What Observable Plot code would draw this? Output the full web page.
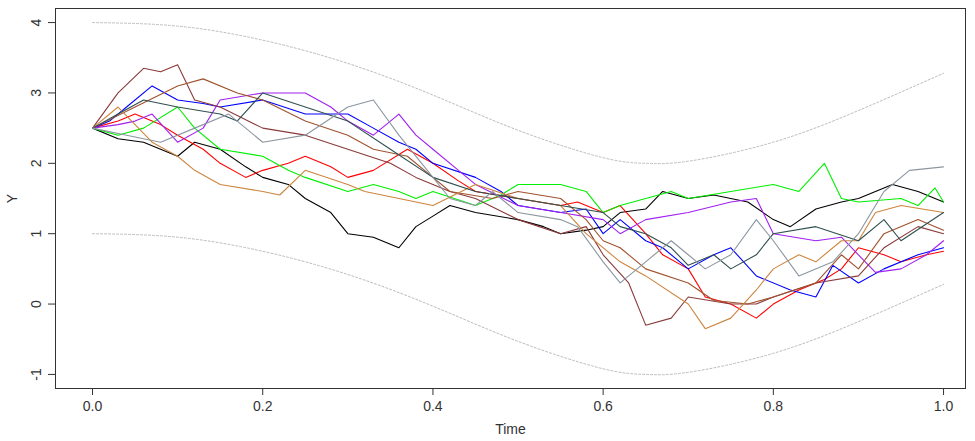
<!DOCTYPE html>
<html>
<head>
<meta charset="UTF-8" />
<style>
  body { margin: 0; background: #fff; font-family: "Liberation Sans", Arial, sans-serif; }
</style>
</head>
<body>
<div id="chart"></div>
<script src="https://cdn.jsdelivr.net/npm/d3@7"></script>
<script src="https://cdn.jsdelivr.net/npm/@observablehq/plot@0.6"></script>
<script>
// each series: [time, value] pairs
const black = [[0,2.5],[0.03,2.35],[0.06,2.3],[0.1,2.1],[0.12,2.3],[0.15,2.2],[0.18,1.95],[0.2,1.8],[0.23,1.7],[0.25,1.5],[0.28,1.3],[0.3,1.0],[0.33,0.95],[0.35,0.85],[0.36,0.8],[0.38,1.1],[0.4,1.25],[0.42,1.4],[0.45,1.3],[0.5,1.2],[0.53,1.1],[0.55,1.0],[0.58,1.05],[0.6,1.1],[0.62,1.3],[0.65,1.35],[0.67,1.6],[0.7,1.5],[0.73,1.55],[0.75,1.5],[0.77,1.45],[0.8,1.2],[0.82,1.1],[0.85,1.35],[0.88,1.45],[0.9,1.5],[0.94,1.7],[0.97,1.6],[1.0,1.45]];
const red = [[0,2.5],[0.03,2.6],[0.05,2.7],[0.08,2.55],[0.1,2.4],[0.13,2.2],[0.15,2.0],[0.18,1.8],[0.2,1.9],[0.23,2.0],[0.25,2.1],[0.28,1.95],[0.3,1.8],[0.33,1.9],[0.37,2.2],[0.4,2.0],[0.43,1.75],[0.45,1.6],[0.5,1.5],[0.55,1.4],[0.57,1.45],[0.6,1.3],[0.62,1.4],[0.65,1.0],[0.67,0.7],[0.7,0.5],[0.72,0.1],[0.75,0.0],[0.78,-0.2],[0.8,0.0],[0.83,0.2],[0.86,0.35],[0.88,0.5],[0.9,0.8],[0.93,0.7],[0.95,0.6],[0.98,0.7],[1.0,0.75]];
const blue = [[0,2.5],[0.02,2.6],[0.04,2.8],[0.07,3.1],[0.1,2.9],[0.13,2.85],[0.15,2.8],[0.2,2.9],[0.25,2.7],[0.3,2.7],[0.33,2.5],[0.36,2.3],[0.38,2.2],[0.4,2.0],[0.45,1.8],[0.48,1.6],[0.5,1.4],[0.55,1.3],[0.58,1.35],[0.6,1.0],[0.62,1.2],[0.65,0.9],[0.67,0.8],[0.7,0.5],[0.73,0.7],[0.75,0.8],[0.78,0.4],[0.82,0.2],[0.85,0.1],[0.87,0.55],[0.9,0.3],[0.93,0.5],[0.97,0.7],[1.0,0.8]];
const green = [[0,2.5],[0.03,2.4],[0.06,2.5],[0.1,2.8],[0.12,2.5],[0.15,2.2],[0.2,2.1],[0.23,1.9],[0.25,1.8],[0.3,1.6],[0.33,1.7],[0.36,1.6],[0.38,1.5],[0.4,1.6],[0.45,1.4],[0.48,1.55],[0.5,1.7],[0.55,1.7],[0.58,1.6],[0.6,1.3],[0.62,1.4],[0.65,1.5],[0.68,1.6],[0.7,1.5],[0.75,1.6],[0.8,1.7],[0.83,1.6],[0.86,2.0],[0.88,1.5],[0.9,1.45],[0.95,1.5],[0.97,1.4],[0.99,1.65],[1.0,1.45]];
const purple = [[0,2.5],[0.03,2.55],[0.05,2.6],[0.07,2.7],[0.1,2.3],[0.13,2.5],[0.15,2.9],[0.2,3.0],[0.25,3.0],[0.28,2.8],[0.3,2.6],[0.33,2.4],[0.36,2.7],[0.38,2.4],[0.4,2.2],[0.43,1.9],[0.45,1.7],[0.5,1.4],[0.55,1.3],[0.6,1.2],[0.62,1.0],[0.65,1.2],[0.7,1.3],[0.75,1.45],[0.78,1.5],[0.8,1.0],[0.85,0.9],[0.88,0.95],[0.9,0.7],[0.92,0.45],[0.95,0.5],[0.98,0.7],[1.0,0.9]];
const maroon = [[0,2.5],[0.03,3.0],[0.06,3.35],[0.08,3.3],[0.1,3.4],[0.12,2.9],[0.15,2.8],[0.2,2.5],[0.25,2.4],[0.3,2.2],[0.35,2.0],[0.38,1.8],[0.42,1.6],[0.45,1.5],[0.5,1.2],[0.55,1.0],[0.58,1.1],[0.6,0.7],[0.63,0.3],[0.65,-0.3],[0.68,-0.2],[0.7,0.1],[0.75,0.0],[0.78,0.0],[0.8,0.1],[0.85,0.3],[0.9,0.4],[0.93,0.8],[0.97,1.1],[1.0,1.0]];
const sienna = [[0,2.5],[0.05,2.8],[0.1,3.1],[0.13,3.2],[0.17,3.0],[0.2,2.9],[0.25,2.6],[0.3,2.4],[0.33,2.2],[0.37,2.1],[0.4,1.8],[0.42,1.6],[0.47,1.5],[0.5,1.6],[0.55,1.5],[0.58,1.2],[0.6,0.9],[0.62,0.8],[0.65,0.5],[0.7,0.3],[0.73,0.05],[0.77,0.0],[0.8,0.1],[0.85,0.3],[0.88,0.7],[0.9,0.5],[0.93,1.0],[0.97,1.2],[1.0,1.05]];
const peru = [[0,2.5],[0.03,2.8],[0.07,2.3],[0.1,2.1],[0.12,1.9],[0.15,1.7],[0.2,1.6],[0.22,1.55],[0.25,1.9],[0.3,1.7],[0.32,1.6],[0.36,1.5],[0.4,1.4],[0.45,1.7],[0.5,1.5],[0.55,1.4],[0.58,1.0],[0.62,0.6],[0.65,0.4],[0.7,0.0],[0.72,-0.35],[0.75,-0.2],[0.78,0.2],[0.8,0.5],[0.83,0.7],[0.85,0.6],[0.88,0.9],[0.9,0.9],[0.92,1.3],[0.95,1.4],[1.0,1.3]];
const slate = [[0,2.5],[0.03,2.7],[0.06,2.9],[0.1,2.8],[0.15,2.7],[0.17,2.6],[0.2,3.0],[0.25,2.8],[0.3,2.6],[0.35,2.2],[0.4,1.8],[0.45,1.6],[0.5,1.5],[0.55,1.4],[0.6,1.3],[0.62,1.1],[0.65,1.0],[0.68,0.8],[0.7,0.55],[0.73,0.7],[0.75,0.5],[0.78,0.7],[0.8,1.0],[0.85,1.1],[0.9,0.9],[0.93,1.2],[0.95,0.9],[1.0,1.3]];
const gray = [[0,2.5],[0.04,2.4],[0.08,2.3],[0.12,2.5],[0.16,2.7],[0.2,2.3],[0.25,2.4],[0.3,2.8],[0.33,2.9],[0.36,2.4],[0.4,1.8],[0.42,1.5],[0.45,1.4],[0.47,1.6],[0.5,1.3],[0.55,1.2],[0.57,1.1],[0.6,0.6],[0.62,0.3],[0.65,0.6],[0.68,0.9],[0.7,0.7],[0.72,0.5],[0.75,0.7],[0.78,1.2],[0.8,0.9],[0.83,0.4],[0.87,0.6],[0.9,1.0],[0.93,1.6],[0.96,1.9],[1.0,1.95]];

const seriesNames = ["black", "red", "blue", "green", "purple", "maroon", "sienna", "peru", "slate", "gray"];
const seriesValues = [black, red, blue, green, purple, maroon, sienna, peru, slate, gray];
const seriesColors = ["#000000", "#ff0000", "#0000ff", "#00ee00", "#a020f0", "#8b3a3a", "#a0522d", "#cd853f", "#2f4f4f", "#8c96a0"];

// dashed envelope curves
const upperBound = [[0,4.0],[0.1,3.95],[0.2,3.75],[0.3,3.42],[0.4,2.97],[0.5,2.47],[0.6,2.08],[0.65,2.0],[0.7,2.03],[0.8,2.3],[0.9,2.75],[1.0,3.28]];
const lowerBound = [[0,1.0],[0.1,0.95],[0.2,0.75],[0.3,0.42],[0.4,-0.03],[0.5,-0.53],[0.6,-0.92],[0.65,-1.0],[0.7,-0.97],[0.8,-0.7],[0.9,-0.25],[1.0,0.28]];

const xTicks = [0, 0.2, 0.4, 0.6, 0.8, 1.0];
const yTicks = [-1, 0, 1, 2, 3, 4];

const rows = seriesValues.flatMap((s, i) => s.map(([t, v]) => ({t, v, k: seriesNames[i]})));

const plot = Plot.plot({
  width: 975,
  height: 441,
  marginLeft: 55,
  marginRight: 10,
  marginTop: 8,
  marginBottom: 53,
  style: { fontFamily: "Liberation Sans, Arial, sans-serif", fontSize: "14px", color: "#333" },
  x: { domain: [-0.0435, 1.0258], label: null },
  y: { domain: [-1.2, 4.2], label: null },
  color: { domain: seriesNames, range: seriesColors },
  marks: [
    Plot.frame({ stroke: "#333" }),
    Plot.line(upperBound, { x: d => d[0], y: d => d[1], curve: "natural", stroke: "#aaa", strokeDasharray: "2,2", strokeWidth: 0.8 }),
    Plot.line(lowerBound, { x: d => d[0], y: d => d[1], curve: "natural", stroke: "#aaa", strokeDasharray: "2,2", strokeWidth: 0.8 }),
    Plot.line(rows, { x: "t", y: "v", z: "k", stroke: "k", strokeWidth: 1.1 }),
    Plot.axisX({ ticks: xTicks, tickFormat: d3.format(".1f"), tickSize: 7, tickPadding: 6, anchor: "bottom", label: "Time", labelAnchor: "center", labelArrow: "none", labelOffset: 45 }),
    Plot.axisY({ ticks: yTicks, tickFormat: d => String(d), tickSize: 7, tickRotate: -90, tickPadding: 8, anchor: "left", label: "Y", labelAnchor: "center", labelArrow: "none", labelOffset: 48 })
  ]
});
document.querySelector("#chart").append(plot);
</script>
</body>
</html>
